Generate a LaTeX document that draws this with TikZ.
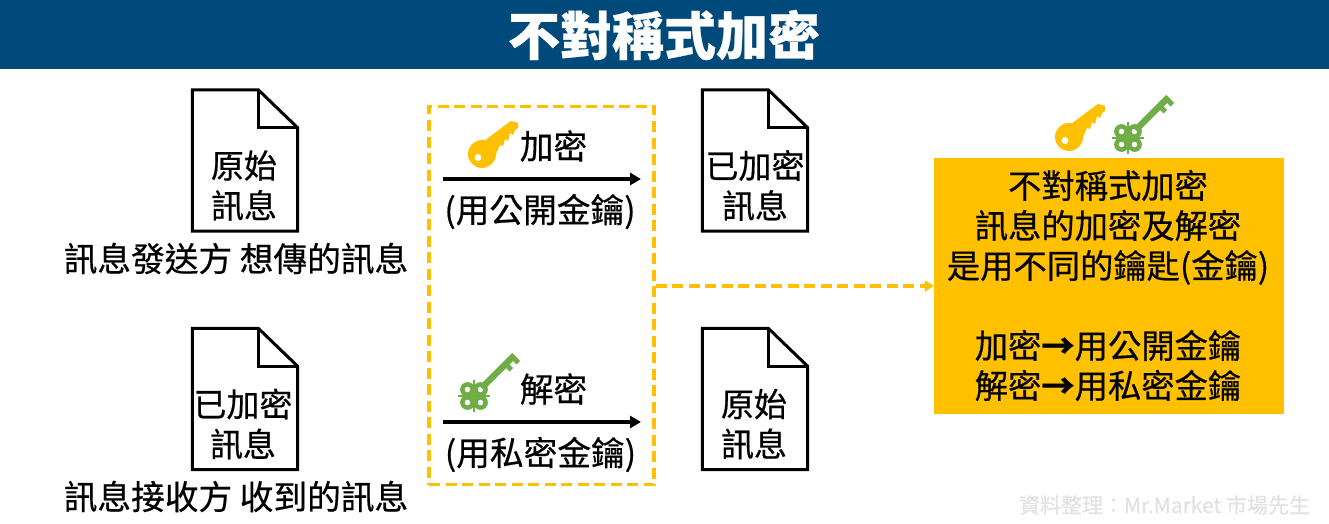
\documentclass[tikz,border=0pt]{standalone}
\usepackage{fontspec}
\setmainfont{Noto Sans CJK TC}[RawFeature={embolden=0.5}]
\usetikzlibrary{arrows.meta}
\definecolor{hdr}{HTML}{004A7B}
\definecolor{gold}{HTML}{FFC000}
\definecolor{keygreen}{HTML}{70AD47}
\definecolor{wm}{HTML}{E2E2E2}
\newcommand{\txtsize}[1]{\fontsize{#1}{40}\selectfont}
\tikzset{
  lbl/.style={inner sep=0pt,align=center,font=\txtsize{33.7},text=black},
  sheet/.style={inner sep=0pt,minimum width=105,minimum height=141,draw=none},
  flow/.style={line width=3.3pt,black,-{Triangle[length=11pt,width=12pt]}},
  goldkey/.pic={
    \fill[gold,even odd rule] (0,0) circle[radius=14] (-4,3.5) circle[radius=3.6];
    \fill[gold] (2,-13)--(22,-28)--(29,-33)--(36,-31)--(36,-26)--(33,-24)--(31,-19)--(28,-21)--(26,-13)--(23,-15)--(21,-8)--(18,-9)--(14,0)--(8,8)--cycle;
  },
  greenkey/.pic={
    \foreach \a/\b in {-6.5/-6.5,6.5/-6.5,-6.5/6.5,6.5/6.5}{
      \fill[keygreen,even odd rule] (\a,\b) circle[radius=7.4] (\a,\b) circle[radius=2.9];
    }
    \fill[keygreen] (-16,-1.4) rectangle (16,1.4);
    \fill[keygreen] (-1.4,-16) rectangle (1.4,16);
    \fill[keygreen] (5,-10)--(38,-43)--(42.5,-38.5)--(10,-6)--cycle;
    \fill[keygreen] (28,-32)--(31.5,-35.5)--(39,-28)--(35.5,-24.5)--cycle;
    \fill[keygreen] (35,-39)--(38.5,-42.5)--(46,-35)--(42.5,-31.5)--cycle;
  }
}
\newcommand{\docsheet}[5]{%
  \node[sheet] (#1) at (#2,#3) {};
  \draw[black,line width=3pt,line join=miter,fill=white]
    (#1.north west) -- ([xshift=66pt]#1.north west) -- ([yshift=-38pt]#1.north east)
    -- (#1.south east) -- (#1.south west) -- cycle;
  \draw[black,line width=3pt]
    ([xshift=66pt]#1.north west) -- ([xshift=66pt,yshift=-38pt]#1.north west) -- ([yshift=-38pt]#1.north east);
  \node[lbl,font=\txtsize{33}] (#1t) at (#2+#5,#3+25) {#4};
}
\begin{document}
\begin{tikzpicture}[x=1pt,y=-1pt]
\useasboundingbox (0,0) rectangle (1329,524);
\fill[white] (0,0) rectangle (1329,524);
% title
\node[fill=hdr,minimum width=1329,minimum height=69,inner sep=0pt,anchor=north west] (bar) at (0,0) {};
\node[inner sep=0pt,text=white,font=\txtsize{52}\bfseries] (title) at (664,35) {不對稱式加密};
% documents
\docsheet{d1}{245}{160.5}{原始\\訊息}{-1}
\docsheet{d2}{245}{399}{已加密\\訊息}{-2}
\docsheet{d3}{755}{160.5}{已加密\\訊息}{0}
\docsheet{d4}{755}{399}{原始\\訊息}{-1}
\node[lbl] (c1) at (236,258.5) {訊息發送方 想傳的訊息};
\node[lbl] (c2) at (236,496.5) {訊息接收方 收到的訊息};
% dashed box
\node[draw=gold,line width=3.6pt,dash pattern=on 11pt off 5.5pt,minimum width=225,minimum height=378,inner sep=0pt] (dbox) at (541.5,295.5) {};
% key labels
\pic at (482,154) {goldkey};
\node[lbl] (enc) at (553.5,146) {加密};
\coordinate (a1s) at (443,179);
\coordinate (a1e) at (641,179);
\draw[flow] (a1s) -- (a1e);
\node[lbl] (encp) at (540,211.5) {(用公開金鑰)};
\pic at (474,396) {greenkey};
\node[lbl] (dec) at (553.5,389) {解密};
\coordinate (a2s) at (443,422);
\coordinate (a2e) at (641,422);
\draw[flow] (a2s) -- (a2e);
\node[lbl] (decp) at (540.5,454.5) {(用私密金鑰)};
% right panel
\pic at (1069,137) {goldkey};
\pic at (1128,138) {greenkey};
\node[fill=gold,minimum width=350,minimum height=256,inner sep=0pt] (panel) at (1109,286) {};
\node[lbl,font=\txtsize{33.3}] (ptext) at (1108,285.5) {不對稱式加密\\訊息的加密及解密\\是用不同的鑰匙(金鑰)\\[0pt]\\加密{\bfseries →}用公開金鑰\\解密{\bfseries →}用私密金鑰};
\draw[gold,line width=3.4pt,dash pattern=on 11pt off 5.5pt,-{Triangle[length=9pt,width=11pt]}] (dbox.east |- panel.west) -- (panel.west);
% watermark
\node[inner sep=0pt,text=wm,font=\txtsize{21}] (wmk) at (1164.5,505) {資料整理：Mr.Market 市場先生};
\end{tikzpicture}
\end{document}
